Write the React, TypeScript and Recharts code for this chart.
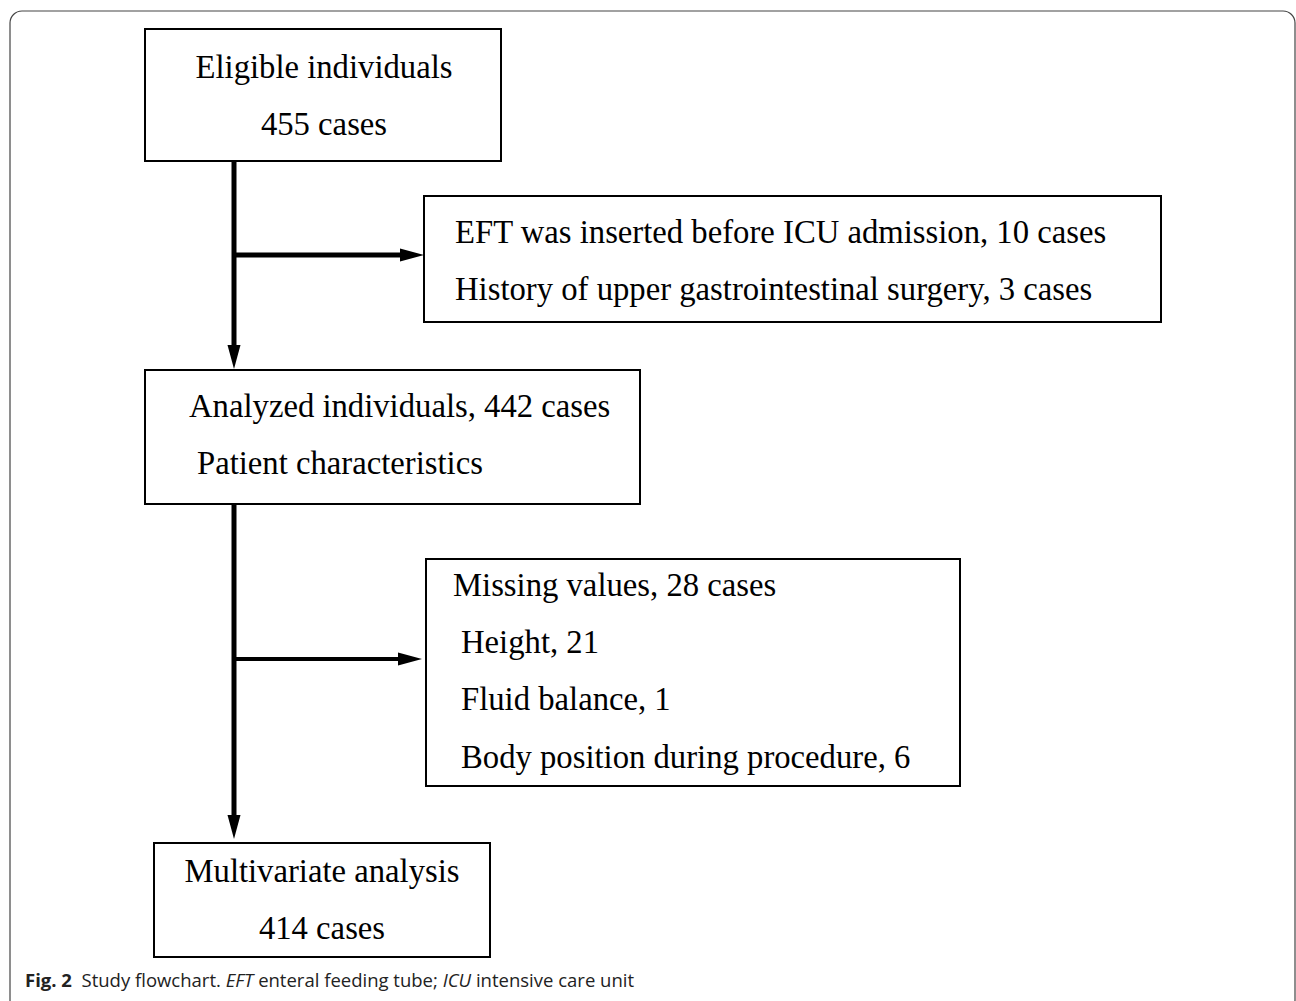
import React from 'react';
import { ComposedChart, XAxis, YAxis, Scatter, ReferenceArea, ReferenceLine } from 'recharts';

const W = 1296;
const H = 1001;

// boxes of the flowchart (page pixel units)
const boxes = [
  { id: 'eligible', x1: 145, x2: 501, y1: 29, y2: 161 },
  { id: 'excluded', x1: 424, x2: 1161, y1: 196, y2: 322 },
  { id: 'analyzed', x1: 145, x2: 640, y1: 370, y2: 504 },
  { id: 'missing', x1: 426, x2: 960, y1: 559, y2: 786 },
  { id: 'multivariate', x1: 154, x2: 490, y1: 843, y2: 957 },
];

// connector segments
const connectors = [
  { x1: 234, y1: 161, x2: 234, y2: 348, w: 5 },
  { x1: 234, y1: 255, x2: 402, y2: 255, w: 5 },
  { x1: 234, y1: 504, x2: 234, y2: 817, w: 5 },
  { x1: 234, y1: 659, x2: 400, y2: 659, w: 4 },
];

// arrow heads, tip positions
const arrowHeads = [
  { x: 234, y: 369, dir: 'down' },
  { x: 424, y: 255, dir: 'right' },
  { x: 234, y: 839, dir: 'down' },
  { x: 422, y: 659, dir: 'right' },
];

// box texts (baseline positions)
const labels = [
  { x: 324, y: 78, text: 'Eligible individuals', anchor: 'middle' },
  { x: 324, y: 135, text: '455 cases', anchor: 'middle' },
  { x: 455, y: 243, text: 'EFT was inserted before ICU admission, 10 cases', anchor: 'start' },
  { x: 455, y: 300, text: 'History of upper gastrointestinal surgery, 3 cases', anchor: 'start' },
  { x: 189, y: 417, text: 'Analyzed individuals, 442 cases', anchor: 'start' },
  { x: 197, y: 474, text: 'Patient characteristics', anchor: 'start' },
  { x: 453, y: 596, text: 'Missing values, 28 cases', anchor: 'start' },
  { x: 461, y: 653, text: 'Height, 21', anchor: 'start' },
  { x: 461, y: 710, text: 'Fluid balance, 1', anchor: 'start' },
  { x: 461, y: 768, text: 'Body position during procedure, 6', anchor: 'start' },
  { x: 322, y: 882, text: 'Multivariate analysis', anchor: 'middle' },
  { x: 322, y: 939, text: '414 cases', anchor: 'middle' },
];

const caption = [{ x: 25, y: 987 }];
const captionParts = [
  { t: 'Fig. 2', style: 'bold' },
  { t: '  Study flowchart. ', style: 'normal' },
  { t: 'EFT', style: 'italic' },
  { t: ' enteral feeding tube; ', style: 'normal' },
  { t: 'ICU', style: 'italic' },
  { t: ' intensive care unit', style: 'normal' },
];

const frame = { x1: 10, x2: 1295, y1: 11, y2: 1012 };

const LabelShape = (props: any) => {
  const { cx, cy, payload } = props;
  return (
    <text x={cx} y={cy} textAnchor={payload.anchor} fontFamily="'Liberation Serif', 'Times New Roman', serif" fontSize={32.7} fill="#000">
      {payload.text}
    </text>
  );
};

const ArrowShape = (props: any) => {
  const { cx, cy, payload } = props;
  const len = 24;
  const half = 6.5;
  const d = payload.dir === 'down'
    ? `M${cx},${cy} L${cx - half},${cy - len} L${cx + half},${cy - len} Z`
    : `M${cx},${cy} L${cx - len},${cy - half} L${cx - len},${cy + half} Z`;
  return <path d={d} fill="#000" />;
};

const CaptionShape = (props: any) => {
  const { cx, cy } = props;
  return (
    <text x={cx} y={cy} fontFamily="'Open Sans', 'Noto Sans', sans-serif" fontSize={18.5} fill="#222" style={{ whiteSpace: 'pre' }}>
      {captionParts.map((p, i) => (
        <tspan key={i} fontWeight={p.style === 'bold' ? 700 : 400} fontStyle={p.style === 'italic' ? 'italic' : 'normal'}>
          {p.t}
        </tspan>
      ))}
    </text>
  );
};

const FrameShape = (props: any) => {
  const { x, y, width, height } = props;
  return <rect x={x} y={y} width={width} height={height} rx={12} ry={12} fill="none" stroke="#444" strokeWidth={1.2} />;
};

const App: React.FC = () => {
  return (
    <div style={{ position: 'absolute', left: 0, top: 0, width: W, height: H, background: '#fff' }}>
      <ComposedChart width={W} height={H} margin={{ top: 0, right: 0, bottom: 0, left: 0 }}>
        <XAxis type="number" dataKey="x" domain={[0, W]} hide allowDataOverflow />
        <YAxis type="number" dataKey="y" domain={[0, H]} reversed hide allowDataOverflow />
        <ReferenceArea
          x1={frame.x1} x2={frame.x2} y1={frame.y1} y2={frame.y2}
          ifOverflow="visible" shape={FrameShape}
        />
        {connectors.map((c, i) => (
          <ReferenceLine
            key={'c' + i}
            segment={[{ x: c.x1, y: c.y1 }, { x: c.x2, y: c.y2 }]}
            stroke="#000" strokeWidth={c.w} ifOverflow="visible"
          />
        ))}
        {boxes.map((b) => (
          <ReferenceArea
            key={b.id}
            x1={b.x1} x2={b.x2} y1={b.y1} y2={b.y2}
            fill="#fff" fillOpacity={1} stroke="#000" strokeWidth={2} ifOverflow="visible"
          />
        ))}
        <Scatter data={arrowHeads} shape={ArrowShape} isAnimationActive={false} />
        <Scatter data={labels} shape={LabelShape} isAnimationActive={false} />
        <Scatter data={caption} shape={CaptionShape} isAnimationActive={false} />
      </ComposedChart>
    </div>
  );
};

export default App;
